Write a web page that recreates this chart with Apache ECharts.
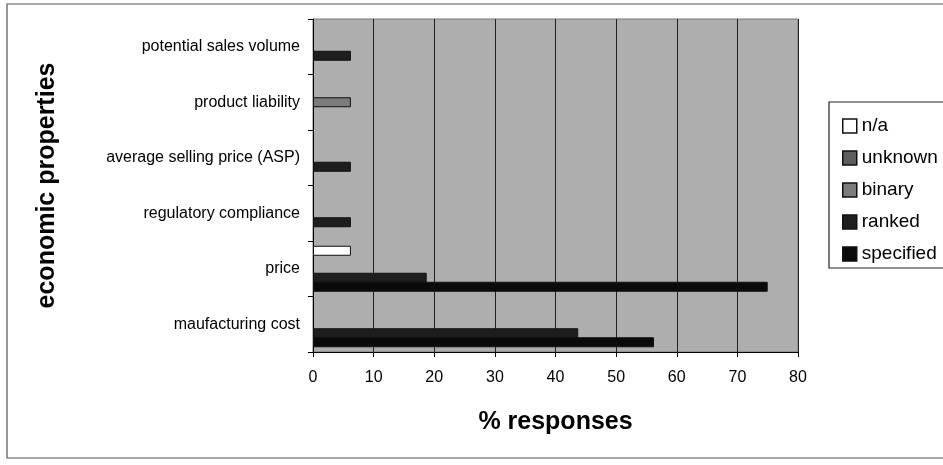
<!DOCTYPE html>
<html>
<head>
<meta charset="utf-8">
<script src="https://cdn.jsdelivr.net/npm/echarts@6/dist/echarts.min.js"></script>
<style>
html,body{margin:0;padding:0;background:#fff;}
#c{width:943px;height:465px;}
</style>
</head>
<body>
<div id="c"></div>
<script>
// Categories listed bottom-to-top
const categories = ['maufacturing cost', 'price', 'regulatory compliance', 'average selling price (ASP)', 'product liability', 'potential sales volume'];
const seriesNames = ['n/a', 'unknown', 'binary', 'ranked', 'specified'];
const naValues = [null, 6.25, null, null, null, null];
const unknownValues = [null, null, null, null, null, null];
const binaryValues = [null, null, null, null, 6.25, null];
const rankedValues = [43.75, 18.75, 6.25, 6.25, null, 6.25];
const specifiedValues = [56.25, 75, null, null, null, null];
const xTicks = [0, 10, 20, 30, 40, 50, 60, 70, 80];

const seriesData = [naValues, unknownValues, binaryValues, rankedValues, specifiedValues];
const colors = ['#ffffff', '#5e5e5e', '#7c7c7c', '#1e1e1e', '#0a0a0a'];
const FONT = '"Liberation Sans", Arial, Helvetica, sans-serif';

const chart = echarts.init(document.getElementById('c'), null, {renderer: 'canvas'});
chart.setOption({
  animation: false,
  backgroundColor: '#ffffff',
  textStyle: {fontFamily: FONT, color: '#000'},
  graphic: [
    {type: 'rect', shape: {x: 7, y: 4, width: 945, height: 454}, style: {fill: 'none', stroke: '#555', lineWidth: 1.2}, z: -10},
    {type: 'rect', shape: {x: 829, y: 102, width: 130, height: 166}, style: {fill: '#fff', stroke: '#222', lineWidth: 1.2}, z: 0}
  ],
  grid: {left: 313, right: 145, top: 19, bottom: 113, show: true, backgroundColor: '#aeaeae', borderColor: '#777', borderWidth: 1},
  legend: {
    orient: 'vertical', left: 837, top: 111, z: 5,
    data: seriesNames,
    icon: 'rect', itemWidth: 14, itemHeight: 14, itemGap: 12,
    textStyle: {fontFamily: FONT, fontSize: 19, color: '#000', lineHeight: 20},
    itemStyle: {borderColor: '#111', borderWidth: 1.5}
  },
  xAxis: {
    type: 'value', min: 0, max: 80, interval: 10,
    axisLine: {show: true, lineStyle: {color: '#000', width: 1}},
    axisTick: {show: true, length: 5, lineStyle: {color: '#000'}},
    axisLabel: {fontFamily: FONT, fontSize: 16, color: '#000', margin: 18,
      formatter: v => xTicks.includes(v) ? String(v) : ''},
    splitLine: {show: true, lineStyle: {color: '#222', width: 1}},
    name: '% responses', nameLocation: 'middle', nameGap: 58,
    nameTextStyle: {fontFamily: FONT, fontSize: 25, fontWeight: 'bold', color: '#000'}
  },
  yAxis: {
    type: 'category', data: categories,
    axisLine: {show: true, lineStyle: {color: '#000', width: 1}},
    axisTick: {show: true, length: 5, lineStyle: {color: '#000'}},
    axisLabel: {fontFamily: FONT, fontSize: 16, color: '#000', margin: 13},
    splitLine: {show: false},
    name: 'economic properties', nameLocation: 'middle', nameGap: 253, nameRotate: 90,
    nameTextStyle: {fontFamily: FONT, fontSize: 25, fontWeight: 'bold', color: '#000'}
  },
  series: seriesNames.map((n, i) => ({
    name: n, type: 'bar', data: seriesData[i],
    barWidth: 10, barGap: '-10%',
    itemStyle: {color: colors[i], borderColor: '#111', borderWidth: 1}
  }))
});
</script>
</body>
</html>
